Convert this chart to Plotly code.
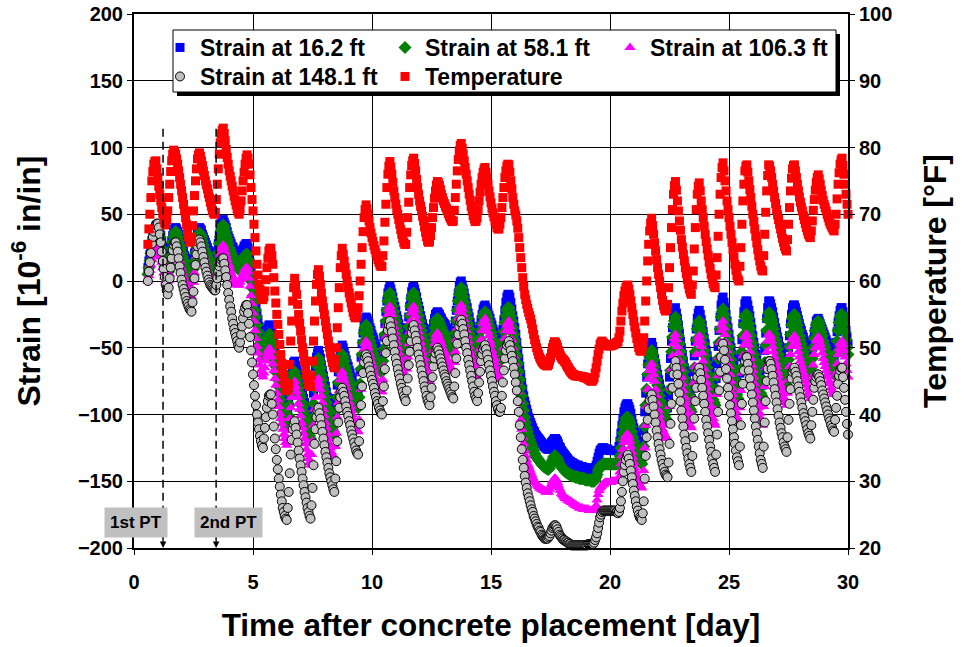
import numpy as np
import plotly.graph_objects as go

# Hourly readings from 14 h to 720 h after concrete placement.
# Each inner list is one day (day 0 starts at 14 h); the last list is hour 720.
hours = np.arange(14, 721, 1)
days = hours / 24.0

temperature_rows = [  # °F
    [65.5, 67.8, 70, 72.5, 75, 76.4, 77.5, 77.9, 78, 76.8],
    [75.5, 74.2, 73, 72, 71, 70.1, 69.2, 68.7, 68.4, 69.2, 70.5, 72.5, 74.5, 76.4, 78, 79, 79.6, 79.4, 79, 78.3, 77.5, 76.5, 75.5, 74.5],
    [73.5, 72.5, 71.5, 70.5, 69.5, 68.5, 67.5, 66.6, 65.8, 65.9, 66.5, 68.3, 70.5, 72.8, 75, 76.8, 78.3, 78.9, 79.2, 78.7, 78, 77.3, 76.5, 75.8],
    [75, 74.4, 73.8, 73.1, 72.5, 71.8, 71.2, 70.6, 70.2, 70, 70.3, 72.2, 74.5, 76.8, 79, 80.7, 82, 82.6, 82.9, 82.1, 81, 79.7, 78.5, 77.5],
    [76.5, 75.7, 75, 74.2, 73.5, 72.7, 72, 71.4, 70.8, 70.3, 70, 70.8, 72, 73.5, 75, 76.3, 77.5, 78.4, 78.9, 78.4, 77.5, 75.9, 74, 72.2],
    [70.5, 68.5, 66.5, 64.5, 62.5, 60.9, 59.5, 58.7, 58, 57.5, 57.2, 57.6, 58.5, 60.2, 62, 63.4, 64.5, 64.9, 64.9, 63.8, 62.5, 60.5, 58.5, 56.7],
    [55, 53.5, 52, 50.5, 49, 47.7, 46.5, 45.6, 44.8, 44.1, 43.6, 43.8, 44.5, 47.5, 51, 54, 57, 59, 60.4, 59.3, 58, 56.5, 55, 53.7],
    [52.5, 51.2, 50, 49, 48, 47, 46, 45.2, 44.5, 44.2, 44.2, 45.8, 48, 51, 54, 57, 59.5, 61, 61.7, 60.7, 59.5, 58.2, 57, 56],
    [55, 54, 53, 52, 51, 50.1, 49.2, 48.5, 47.8, 47.3, 47, 48.2, 50, 53, 56, 59, 62, 63.8, 64.9, 64, 63, 62, 61, 60],
    [59, 58.2, 57.5, 56.7, 56, 55.3, 54.8, 54.5, 54.5, 55, 56, 57.8, 60, 62.5, 65, 67.4, 69.5, 70.7, 71.4, 70.8, 70, 69, 68, 67.2],
    [66.5, 65.9, 65.3, 64.7, 64.2, 63.7, 63.2, 62.8, 62.4, 62.2, 62.2, 63.8, 66, 68.8, 71.5, 74, 76, 77.2, 77.9, 77.1, 76, 74.8, 73.5, 72.5],
    [71.5, 70.7, 70, 69.2, 68.5, 67.7, 67, 66.4, 65.8, 65.5, 65.5, 67.3, 69.5, 71.8, 74, 75.9, 77.3, 78, 78.4, 77.6, 76.5, 75.2, 74, 73],
    [72, 71.2, 70.5, 69.7, 69, 68.1, 67.3, 66.6, 66, 65.8, 65.9, 66.8, 68, 69.5, 71, 72.4, 73.5, 74.4, 74.9, 74.7, 74.3, 73.7, 73, 72.5],
    [72, 71.6, 71.2, 70.9, 70.5, 70.1, 69.7, 69.4, 69.1, 68.9, 69, 70.6, 72.5, 74.5, 76.5, 78.2, 79.5, 80.3, 80.6, 79.9, 79, 78, 77, 76],
    [75, 74, 73, 72.1, 71.2, 70.5, 69.8, 69.3, 68.9, 69, 69.5, 70.7, 72, 73.3, 74.5, 75.5, 76.3, 76.8, 77, 76.3, 75.5, 74.5, 73.5, 72.6],
    [71.7, 70.9, 70.2, 69.6, 69, 68.5, 68, 67.8, 67.8, 68.5, 69.5, 71, 72.5, 74, 75.5, 76.5, 77.2, 77.5, 77.4, 76.3, 75, 73.8, 72.5, 71.5],
    [70.5, 69.9, 69, 67.9, 66.5, 65, 63.5, 62, 60.5, 59.2, 58, 57.2, 56.5, 55.9, 55.3, 54.8, 54.3, 53.6, 52.8, 52, 51.2, 50.6, 50, 49.5],
    [49, 48.6, 48.3, 48, 47.8, 47.6, 47.5, 47.4, 47.3, 47.3, 47.5, 48, 48.5, 49.2, 50, 50.5, 50.9, 50.8, 50.5, 50.1, 49.6, 49.2, 48.8, 48.5],
    [48.3, 48.2, 48, 47.8, 47.5, 47.2, 47, 46.7, 46.5, 46.3, 46.1, 46, 45.9, 45.8, 45.8, 45.8, 45.8, 45.7, 45.7, 45.7, 45.7, 45.6, 45.6, 45.5],
    [45.5, 45.4, 45.3, 45.2, 45.1, 45, 45, 45.2, 45.5, 46.2, 47, 48, 49, 49.8, 50.5, 50.8, 51, 50.8, 50.6, 50.5, 50.4, 50.3, 50.3, 50.3],
    [50.3, 50.3, 50.4, 50.4, 50.5, 50.6, 50.7, 50.8, 50.9, 51.5, 52.5, 54, 55.5, 56.7, 57.8, 58.5, 59, 59.3, 59.4, 58.8, 58, 57, 56, 55],
    [54, 53.1, 52.2, 51.4, 50.6, 50, 49.6, 49.5, 49.5, 50.3, 51.5, 54, 57, 60, 63, 65.5, 67.5, 68.7, 69.4, 68.3, 67, 65.7, 64.5, 63.2],
    [62, 61, 60, 59, 58, 57.1, 56.3, 55.8, 55.5, 55.8, 56.5, 59, 62, 65, 68, 70.7, 73, 74.3, 74.9, 73.6, 72, 70.5, 69, 67.6],
    [66.2, 65.1, 64, 63, 62, 61.1, 60.2, 59.5, 58.8, 58.3, 58, 59.4, 61.5, 64.8, 68, 70.7, 73, 74.2, 74.7, 73.5, 72, 70.7, 69.5, 68.2],
    [67, 65.9, 64.8, 63.8, 62.8, 61.9, 61, 60.3, 59.6, 59.2, 59, 60.9, 63.5, 66.7, 70, 73, 75.5, 77, 77.7, 76.5, 75, 73.5, 72, 70.7],
    [69.5, 68.2, 67, 65.8, 64.7, 63.6, 62.5, 61.6, 60.8, 60.3, 60, 62.2, 65, 68.5, 72, 74.5, 76.5, 77.2, 77.4, 76.3, 75, 73.7, 72.5, 71.2],
    [70, 68.9, 67.8, 66.7, 65.7, 64.7, 63.8, 63, 62.2, 61.7, 61.5, 63.8, 67, 70.3, 73.5, 75.8, 77.4, 77.2, 76.5, 75.5, 74.5, 73.5, 72.5, 71.6],
    [70.7, 69.9, 69.2, 68.5, 67.8, 67.1, 66.4, 65.8, 65.2, 64.8, 64.5, 66.2, 68.5, 71, 73.5, 75.4, 76.8, 77.3, 77.4, 76.5, 75.5, 74.5, 73.5, 72.6],
    [71.8, 71.1, 70.5, 69.8, 69.2, 68.6, 68, 67.5, 67, 66.7, 66.5, 67.5, 69, 70.6, 72.2, 73.6, 74.8, 75.5, 75.9, 75.3, 74.5, 73.6, 72.8, 72.1],
    [71.5, 71, 70.5, 70, 69.5, 69, 68.6, 68.3, 68, 67.7, 67.5, 68.5, 70, 72.3, 74.5, 76.2, 77.5, 78.1, 78.4, 77.3, 76, 74.5, 73, 71.5],
    [70],
]

strain_16_rows = [  # 1e-6 in/in, gauge at 16.2 ft
    [10, 15, 20, 25, 30, 34, 37, 39, 41, 42],
    [42, 41, 38, 34, 30, 26, 22, 18, 15, 13, 12, 15, 20, 25, 30, 34, 37, 39, 40, 39, 37, 35, 32, 29],
    [27, 24, 22, 19, 17, 15, 13, 11, 9, 8, 8, 11, 16, 21, 27, 32, 36, 39, 40, 39, 38, 35, 33, 31],
    [29, 27, 25, 23, 21, 19, 17, 15, 13, 12, 12, 16, 22, 28, 34, 39, 43, 45, 46, 44, 42, 40, 37, 34],
    [32, 30, 28, 26, 25, 23, 21, 19, 18, 17, 17, 18, 20, 22, 24, 26, 27, 28, 28, 25, 20, 14, 8, 3],
    [-2, -7, -12, -18, -24, -29, -34, -38, -42, -45, -48, -46, -43, -40, -37, -35, -33, -33, -34, -38, -42, -47, -52, -57],
    [-62, -67, -72, -77, -81, -85, -89, -93, -96, -98, -100, -97, -92, -85, -77, -70, -64, -61, -60, -63, -66, -69, -72, -75],
    [-78, -81, -84, -88, -91, -95, -98, -101, -104, -106, -108, -103, -95, -84, -73, -64, -57, -54, -52, -55, -58, -63, -67, -71],
    [-75, -79, -83, -87, -90, -93, -96, -99, -101, -103, -105, -98, -88, -78, -68, -60, -53, -50, -48, -50, -53, -56, -59, -62],
    [-64, -67, -69, -72, -74, -77, -79, -81, -83, -84, -85, -78, -68, -57, -47, -39, -32, -29, -27, -28, -30, -32, -35, -37],
    [-40, -42, -44, -47, -49, -51, -53, -55, -57, -58, -58, -51, -42, -32, -23, -15, -9, -6, -4, -6, -9, -12, -16, -19],
    [-22, -26, -29, -32, -35, -38, -40, -43, -45, -47, -48, -42, -35, -27, -19, -13, -8, -5, -4, -6, -9, -12, -16, -19],
    [-22, -26, -29, -32, -35, -38, -41, -44, -46, -47, -48, -45, -41, -36, -32, -28, -25, -24, -23, -24, -25, -27, -28, -30],
    [-31, -32, -33, -35, -36, -37, -38, -40, -41, -42, -42, -37, -30, -22, -15, -9, -4, -1, 0, -3, -6, -9, -13, -17],
    [-20, -24, -27, -31, -34, -37, -40, -43, -45, -47, -48, -44, -39, -34, -29, -25, -21, -19, -18, -20, -22, -24, -26, -28],
    [-31, -33, -36, -38, -41, -44, -46, -48, -50, -50, -48, -43, -36, -29, -22, -16, -12, -10, -10, -12, -16, -21, -26, -30],
    [-35, -40, -46, -52, -58, -64, -70, -76, -81, -86, -90, -93, -96, -99, -102, -104, -106, -108, -110, -112, -113, -115, -116, -117],
    [-118, -119, -120, -121, -122, -123, -124, -125, -125, -126, -126, -125, -123, -121, -120, -119, -118, -118, -119, -120, -122, -124, -125, -127],
    [-128, -129, -130, -131, -132, -133, -134, -135, -135, -136, -136, -137, -137, -138, -138, -138, -138, -139, -139, -139, -139, -140, -140, -140],
    [-140, -140, -140, -141, -141, -141, -141, -141, -141, -140, -138, -135, -132, -129, -127, -126, -125, -125, -125, -126, -126, -126, -126, -127],
    [-127, -127, -127, -127, -127, -127, -127, -127, -127, -124, -120, -114, -108, -103, -98, -95, -93, -92, -92, -94, -96, -99, -103, -107],
    [-110, -113, -116, -118, -120, -122, -124, -125, -125, -120, -112, -98, -84, -72, -62, -55, -50, -47, -46, -49, -53, -58, -62, -66],
    [-70, -74, -77, -81, -84, -87, -90, -92, -94, -95, -95, -85, -72, -58, -45, -35, -27, -22, -20, -24, -28, -33, -39, -45],
    [-50, -55, -60, -65, -69, -73, -77, -81, -84, -86, -88, -79, -68, -56, -45, -36, -28, -24, -22, -25, -29, -33, -38, -43],
    [-47, -52, -56, -60, -64, -68, -72, -76, -79, -81, -83, -73, -62, -49, -37, -27, -18, -14, -12, -16, -20, -25, -30, -35],
    [-40, -45, -50, -55, -59, -64, -68, -72, -76, -78, -80, -69, -57, -44, -32, -23, -17, -15, -15, -18, -22, -26, -31, -36],
    [-41, -46, -50, -55, -59, -63, -67, -71, -74, -76, -78, -66, -52, -39, -28, -20, -15, -15, -17, -20, -23, -27, -31, -35],
    [-38, -42, -45, -49, -52, -55, -58, -61, -64, -66, -68, -60, -50, -41, -32, -25, -20, -18, -18, -20, -23, -26, -29, -32],
    [-35, -37, -40, -42, -45, -47, -50, -53, -56, -58, -60, -56, -50, -44, -38, -34, -30, -29, -28, -30, -32, -34, -36, -38],
    [-40, -42, -44, -46, -48, -50, -53, -56, -58, -59, -60, -54, -46, -38, -31, -26, -22, -20, -20, -23, -27, -32, -37, -42],
    [-47],
]

strain_58_rows = [  # gauge at 58.1 ft
    [5, 10, 15, 21, 26, 30, 33, 35, 37, 38],
    [38, 36, 33, 29, 24, 19, 15, 11, 8, 5, 4, 7, 12, 18, 24, 29, 33, 36, 37, 36, 33, 30, 27, 24],
    [21, 18, 15, 12, 9, 7, 5, 3, 1, 0, 0, 4, 9, 15, 21, 26, 31, 34, 36, 35, 33, 30, 27, 24],
    [22, 20, 18, 16, 14, 12, 10, 8, 6, 5, 4, 9, 15, 21, 28, 33, 38, 41, 42, 40, 37, 34, 31, 28],
    [25, 23, 21, 19, 17, 15, 13, 11, 10, 9, 9, 10, 12, 14, 16, 18, 19, 20, 20, 16, 12, 6, 0, -5],
    [-11, -16, -22, -27, -33, -38, -43, -47, -50, -53, -55, -53, -50, -47, -44, -42, -40, -40, -41, -45, -49, -54, -59, -64],
    [-69, -74, -79, -84, -89, -94, -98, -102, -105, -108, -110, -106, -101, -93, -85, -78, -72, -69, -68, -71, -74, -77, -80, -84],
    [-87, -91, -94, -98, -101, -105, -108, -111, -114, -116, -118, -111, -103, -92, -80, -71, -63, -60, -58, -61, -65, -70, -74, -79],
    [-83, -87, -91, -95, -99, -103, -106, -109, -111, -113, -115, -107, -97, -87, -76, -67, -60, -57, -55, -57, -60, -64, -67, -70],
    [-73, -75, -78, -81, -84, -87, -89, -91, -93, -94, -95, -87, -77, -66, -55, -46, -39, -35, -33, -35, -38, -42, -45, -48],
    [-51, -54, -56, -58, -60, -62, -64, -66, -67, -68, -68, -60, -51, -40, -30, -22, -15, -11, -9, -12, -15, -19, -23, -27],
    [-30, -34, -37, -41, -44, -47, -50, -53, -55, -57, -58, -51, -43, -34, -26, -19, -13, -10, -9, -12, -15, -18, -22, -26],
    [-30, -34, -37, -41, -44, -47, -50, -53, -56, -58, -60, -56, -51, -45, -40, -35, -31, -29, -28, -29, -31, -33, -35, -37],
    [-39, -40, -42, -44, -46, -48, -49, -51, -52, -53, -53, -46, -39, -30, -22, -15, -10, -7, -5, -8, -12, -16, -20, -24],
    [-28, -32, -36, -40, -43, -47, -50, -53, -56, -58, -60, -55, -49, -43, -37, -32, -27, -25, -23, -25, -27, -30, -33, -35],
    [-38, -41, -44, -47, -49, -52, -55, -58, -60, -60, -58, -52, -45, -38, -31, -26, -22, -20, -20, -23, -26, -30, -35, -40],
    [-45, -50, -56, -62, -68, -74, -80, -86, -92, -97, -102, -106, -110, -113, -116, -119, -121, -123, -125, -127, -129, -131, -132, -133],
    [-134, -135, -136, -137, -138, -139, -139, -140, -140, -141, -141, -140, -138, -136, -134, -132, -131, -131, -132, -133, -135, -137, -138, -139],
    [-140, -141, -142, -143, -143, -144, -144, -145, -145, -146, -146, -146, -146, -147, -147, -147, -147, -148, -148, -148, -148, -148, -148, -149],
    [-149, -149, -149, -149, -149, -150, -150, -150, -150, -149, -147, -145, -142, -140, -139, -138, -138, -137, -137, -137, -137, -137, -137, -137],
    [-137, -137, -137, -137, -137, -137, -137, -137, -137, -135, -131, -125, -119, -114, -109, -106, -103, -102, -102, -104, -106, -109, -113, -117],
    [-120, -123, -126, -129, -131, -133, -135, -136, -137, -132, -124, -109, -93, -81, -70, -63, -57, -54, -52, -55, -59, -64, -69, -74],
    [-78, -82, -86, -90, -93, -96, -99, -101, -103, -104, -105, -94, -81, -67, -53, -42, -34, -30, -27, -31, -35, -41, -47, -53],
    [-58, -63, -68, -73, -78, -82, -86, -90, -93, -96, -98, -88, -77, -65, -53, -44, -36, -32, -30, -33, -37, -42, -47, -52],
    [-56, -61, -65, -70, -74, -78, -82, -86, -89, -91, -93, -82, -71, -58, -46, -36, -27, -23, -21, -25, -29, -34, -39, -44],
    [-49, -54, -59, -64, -68, -73, -77, -81, -85, -88, -90, -78, -66, -53, -41, -33, -27, -25, -25, -28, -32, -36, -41, -46],
    [-50, -55, -59, -64, -68, -72, -76, -80, -84, -86, -88, -75, -61, -48, -37, -29, -24, -24, -26, -29, -32, -36, -40, -44],
    [-47, -51, -55, -59, -62, -65, -68, -71, -74, -76, -78, -69, -59, -49, -40, -33, -28, -26, -25, -27, -30, -33, -37, -41],
    [-44, -47, -50, -53, -56, -59, -62, -65, -68, -70, -72, -65, -58, -50, -43, -37, -33, -31, -30, -32, -35, -38, -41, -45],
    [-48, -50, -53, -55, -58, -60, -63, -65, -67, -69, -70, -62, -54, -45, -37, -31, -27, -25, -25, -28, -32, -38, -44, -50],
    [-55],
]

strain_106_rows = [  # gauge at 106.3 ft
    [0, 4, 8, 12, 16, 19, 22, 24, 25, 26],
    [26, 24, 21, 18, 14, 10, 6, 3, 0, -2, -3, 0, 5, 10, 16, 20, 24, 26, 27, 25, 22, 19, 15, 12],
    [9, 6, 3, 0, -2, -4, -6, -8, -10, -11, -12, -7, -1, 6, 13, 19, 25, 29, 31, 30, 27, 24, 20, 17],
    [14, 11, 8, 5, 3, 1, -1, -3, -4, -5, -5, -1, 4, 9, 15, 20, 24, 26, 27, 25, 22, 19, 16, 13],
    [11, 8, 6, 4, 2, 0, -1, -2, -3, -3, -3, -1, 1, 3, 5, 7, 9, 10, 10, 7, 2, -4, -11, -17],
    [-24, -30, -37, -43, -49, -54, -59, -63, -67, -70, -72, -69, -65, -60, -56, -53, -51, -51, -52, -57, -62, -67, -73, -78],
    [-84, -89, -94, -99, -103, -107, -111, -115, -118, -121, -123, -118, -112, -103, -95, -87, -80, -77, -75, -79, -83, -87, -92, -96],
    [-101, -106, -110, -114, -118, -122, -126, -130, -133, -136, -138, -130, -120, -108, -96, -87, -79, -75, -73, -77, -81, -86, -91, -96],
    [-101, -106, -110, -114, -118, -122, -125, -128, -130, -132, -133, -124, -114, -102, -91, -82, -74, -70, -68, -71, -74, -77, -80, -84],
    [-87, -91, -94, -97, -100, -103, -106, -109, -111, -112, -113, -104, -93, -81, -69, -59, -51, -47, -45, -47, -50, -54, -57, -60],
    [-63, -66, -69, -72, -74, -77, -79, -81, -82, -83, -83, -74, -64, -53, -42, -33, -25, -21, -19, -22, -25, -30, -34, -38],
    [-42, -46, -50, -54, -58, -61, -64, -67, -70, -72, -73, -66, -57, -47, -38, -30, -24, -21, -19, -22, -26, -30, -34, -38],
    [-42, -46, -50, -54, -58, -62, -65, -68, -71, -73, -75, -70, -64, -58, -52, -47, -43, -40, -39, -41, -43, -45, -47, -50],
    [-52, -54, -56, -58, -60, -62, -63, -65, -66, -67, -68, -61, -53, -44, -35, -28, -23, -20, -18, -21, -25, -29, -33, -37],
    [-41, -45, -49, -53, -56, -60, -63, -66, -69, -71, -73, -66, -59, -51, -44, -37, -32, -30, -28, -31, -34, -38, -41, -45],
    [-48, -52, -55, -58, -61, -65, -68, -71, -74, -74, -73, -66, -58, -50, -43, -37, -33, -31, -30, -34, -38, -44, -50, -56],
    [-62, -69, -76, -83, -90, -97, -104, -111, -117, -122, -127, -131, -134, -137, -139, -141, -143, -145, -147, -149, -150, -151, -152, -153],
    [-154, -155, -155, -156, -156, -157, -157, -158, -158, -158, -158, -156, -154, -152, -150, -149, -148, -148, -149, -151, -153, -155, -157, -159],
    [-160, -161, -162, -163, -163, -164, -164, -165, -165, -166, -166, -167, -167, -168, -168, -169, -169, -170, -170, -170, -170, -171, -171, -171],
    [-171, -171, -171, -172, -172, -172, -172, -172, -172, -170, -168, -164, -160, -157, -155, -154, -153, -152, -152, -151, -151, -151, -151, -151],
    [-151, -151, -150, -150, -150, -150, -150, -150, -150, -147, -143, -137, -131, -126, -121, -118, -116, -115, -115, -117, -120, -124, -128, -132],
    [-136, -140, -143, -146, -149, -151, -153, -154, -155, -150, -142, -125, -108, -94, -81, -73, -67, -64, -62, -66, -70, -75, -81, -86],
    [-92, -97, -101, -105, -108, -111, -113, -115, -117, -118, -118, -107, -94, -80, -66, -56, -47, -43, -40, -44, -49, -54, -60, -66],
    [-72, -77, -82, -87, -91, -95, -99, -102, -105, -108, -110, -100, -89, -76, -64, -55, -47, -43, -41, -45, -49, -54, -60, -66],
    [-71, -76, -80, -85, -89, -93, -96, -100, -103, -106, -108, -97, -85, -71, -57, -46, -37, -33, -30, -35, -40, -46, -52, -58],
    [-64, -70, -75, -80, -85, -90, -94, -98, -102, -105, -108, -95, -82, -69, -56, -48, -42, -40, -40, -44, -48, -53, -58, -63],
    [-67, -72, -77, -82, -86, -91, -95, -99, -103, -106, -108, -94, -79, -65, -53, -45, -40, -40, -42, -45, -49, -53, -57, -61],
    [-64, -68, -71, -75, -78, -81, -84, -87, -89, -91, -93, -84, -74, -64, -55, -49, -44, -42, -41, -43, -46, -49, -53, -57],
    [-60, -63, -66, -69, -72, -75, -78, -81, -84, -86, -88, -80, -72, -63, -55, -50, -45, -43, -42, -44, -47, -50, -54, -58],
    [-61, -64, -67, -70, -72, -75, -77, -80, -82, -84, -85, -77, -69, -62, -55, -51, -47, -46, -45, -48, -52, -57, -62, -67],
    [-72],
]

strain_148_rows = [  # gauge at 148.1 ft
    [0, 7, 14, 21, 28, 33, 37, 40, 42, 43],
    [43, 40, 35, 29, 22, 15, 9, 3, -3, -7, -10, -5, 2, 10, 17, 23, 27, 29, 29, 26, 22, 17, 11, 6],
    [1, -3, -6, -9, -12, -15, -17, -19, -21, -22, -23, -16, -8, 2, 12, 20, 26, 29, 31, 29, 26, 22, 18, 14],
    [10, 7, 4, 1, -1, -3, -4, -5, -6, -7, -7, -3, 2, 7, 11, 14, 16, 17, 17, 13, 8, 3, -3, -9],
    [-14, -19, -23, -28, -32, -36, -39, -42, -45, -48, -50, -46, -40, -34, -28, -23, -20, -18, -18, -24, -32, -42, -52, -61],
    [-70, -78, -86, -93, -100, -106, -111, -116, -120, -123, -125, -118, -110, -102, -95, -90, -86, -85, -85, -92, -100, -109, -118, -126],
    [-134, -141, -148, -154, -160, -165, -170, -173, -176, -178, -179, -170, -158, -144, -130, -119, -111, -107, -105, -110, -115, -121, -127, -133],
    [-138, -143, -148, -153, -158, -162, -166, -170, -173, -176, -178, -168, -155, -138, -122, -111, -102, -97, -95, -99, -103, -108, -113, -118],
    [-123, -128, -132, -136, -140, -144, -147, -150, -153, -156, -158, -148, -135, -120, -106, -95, -87, -82, -80, -83, -86, -90, -94, -98],
    [-101, -105, -108, -112, -115, -118, -121, -124, -127, -129, -130, -120, -107, -93, -79, -69, -61, -57, -55, -57, -60, -64, -67, -71],
    [-74, -77, -80, -84, -87, -90, -92, -95, -97, -99, -100, -90, -79, -66, -54, -45, -37, -33, -30, -34, -38, -43, -48, -53],
    [-58, -62, -66, -70, -73, -77, -80, -83, -86, -88, -90, -82, -73, -63, -53, -45, -39, -35, -33, -37, -41, -45, -50, -55],
    [-59, -63, -67, -71, -75, -79, -82, -86, -89, -91, -93, -87, -80, -72, -64, -58, -54, -51, -50, -52, -55, -58, -61, -64],
    [-67, -70, -72, -75, -77, -79, -81, -83, -85, -87, -88, -79, -69, -58, -47, -40, -34, -31, -29, -32, -36, -40, -45, -50],
    [-54, -59, -63, -67, -71, -75, -79, -83, -86, -88, -90, -84, -76, -68, -60, -55, -51, -49, -48, -51, -55, -59, -63, -67],
    [-71, -75, -79, -83, -86, -90, -93, -96, -98, -98, -95, -86, -76, -67, -58, -52, -48, -46, -45, -48, -52, -56, -60, -65],
    [-70, -76, -82, -90, -98, -108, -117, -126, -134, -140, -146, -151, -155, -159, -162, -165, -168, -171, -173, -176, -178, -180, -182, -184],
    [-185, -187, -188, -190, -191, -192, -193, -193, -193, -193, -192, -191, -189, -187, -185, -184, -183, -183, -184, -186, -188, -190, -191, -192],
    [-193, -194, -194, -195, -195, -196, -196, -197, -197, -198, -198, -198, -198, -198, -198, -198, -198, -198, -198, -198, -198, -198, -198, -198],
    [-198, -198, -197, -197, -197, -197, -197, -197, -196, -194, -192, -189, -185, -181, -177, -175, -173, -172, -172, -172, -172, -172, -172, -172],
    [-172, -172, -172, -172, -172, -172, -173, -173, -174, -173, -170, -165, -158, -150, -143, -138, -134, -131, -130, -133, -137, -142, -147, -152],
    [-157, -161, -165, -169, -172, -175, -177, -178, -179, -174, -165, -148, -131, -117, -104, -96, -89, -86, -85, -89, -94, -100, -106, -112],
    [-117, -122, -126, -130, -134, -137, -140, -143, -145, -146, -147, -136, -122, -107, -92, -80, -70, -64, -60, -65, -70, -77, -84, -90],
    [-97, -103, -109, -115, -120, -125, -129, -133, -137, -140, -143, -131, -117, -103, -90, -80, -72, -67, -65, -69, -74, -80, -86, -92],
    [-98, -104, -109, -114, -119, -124, -128, -133, -137, -140, -143, -130, -115, -98, -82, -68, -57, -50, -47, -52, -59, -66, -73, -80],
    [-86, -93, -99, -105, -111, -117, -122, -127, -132, -135, -138, -124, -108, -92, -77, -67, -60, -57, -57, -62, -67, -73, -79, -85],
    [-91, -97, -103, -109, -114, -119, -124, -129, -134, -137, -140, -124, -106, -90, -75, -66, -60, -60, -62, -66, -71, -76, -81, -86],
    [-91, -96, -101, -106, -110, -114, -117, -121, -124, -126, -128, -117, -104, -92, -81, -73, -68, -66, -65, -68, -71, -75, -79, -83],
    [-87, -91, -95, -99, -102, -105, -108, -111, -114, -116, -118, -108, -98, -89, -80, -75, -72, -70, -70, -72, -75, -78, -82, -85],
    [-88, -91, -94, -97, -100, -103, -105, -108, -110, -112, -113, -104, -95, -86, -77, -71, -67, -65, -65, -72, -80, -89, -98, -107],
    [-115],
]

series_rows = [
    ("Strain at 16.2 ft", strain_16_rows),
    ("Strain at 58.1 ft", strain_58_rows),
    ("Strain at 106.3 ft", strain_106_rows),
    ("Strain at 148.1 ft", strain_148_rows),
    ("Temperature", temperature_rows),
]

series = []
for name, rows in series_rows:
    for i, r in enumerate(rows[1:-1], start=1):
        assert len(r) == 24, (name, i, len(r))
    flat = [v for r in rows for v in r]
    assert len(flat) == len(days), (name, len(flat))
    series.append((name, flat))

# Post-tensioning events [day]
pt_days = [1.22, 3.45]
pt_labels = ["1st PT", "2nd PT"]
pt_label_x = [0.08, 3.99]

FONT = "Liberation Sans, Arial, sans-serif"

fig = go.Figure()

marker_styles = [
    dict(symbol="square", size=9, color="#0000FF"),
    dict(symbol="diamond", size=10, color="#008000"),
    dict(symbol="triangle-up", size=10, color="#FF00FF"),
    dict(symbol="circle", size=9, color="#C0C0C0", line=dict(color="#000000", width=1)),
    dict(symbol="square", size=9, color="#FF0000"),
]
legend_ids = ["legend", "legend", "legend", "legend2", "legend2"]

for (name, vals), mk, lg in zip(series, marker_styles, legend_ids):
    fig.add_trace(go.Scatter(
        x=days, y=vals, name=name, mode="markers", marker=mk,
        yaxis="y2" if name == "Temperature" else "y",
        legend=lg, cliponaxis=False,
    ))

# Post-tensioning markers: dashed lines with arrowheads and labels
for d, lab, lx in zip(pt_days, pt_labels, pt_label_x):
    fig.add_shape(type="line", xref="x", yref="y", x0=d, x1=d, y0=114, y1=-196,
                  line=dict(color="black", width=1.5, dash="8px,5px"))
    fig.add_annotation(x=d, y=-200, xref="x", yref="y", text="", showarrow=True,
                       arrowhead=2, arrowsize=1, arrowwidth=1.3, arrowcolor="black",
                       ax=0, ay=-10)
    fig.add_annotation(x=lx, y=-181, xref="x", yref="y", text=f"<b>{lab}</b>",
                       showarrow=False, bgcolor="#C0C0C0", borderpad=5,
                       font=dict(family=FONT, size=17, color="black"))


# Legend frame with drop shadow (px -> paper)
def px_x(p):
    return (p - 134) / 714.0


def px_y(p):
    return (548 - p) / 534.0


fig.add_shape(type="rect", xref="paper", yref="paper", layer="above",
              x0=px_x(177), x1=px_x(840), y0=px_y(96), y1=px_y(34),
              fillcolor="black", line=dict(width=0))
fig.add_shape(type="rect", xref="paper", yref="paper", layer="above",
              x0=px_x(173), x1=px_x(836), y0=px_y(92), y1=px_y(30),
              fillcolor="white", line=dict(color="black", width=1))

axis_common = dict(
    showline=True, linecolor="black", linewidth=2, mirror=True,
    ticks="outside", ticklen=5, tickcolor="black",
    tickfont=dict(family=FONT, size=20, color="black", weight="bold"),
    zeroline=False,
)

legend_font = dict(family=FONT, size=23, color="black", weight="bold")

fig.update_layout(
    width=961, height=647,
    margin=dict(l=134, r=113, t=14, b=99, autoexpand=False),
    paper_bgcolor="white", plot_bgcolor="white",
    font=dict(family=FONT, color="black"),
    xaxis=dict(range=[0, 30], dtick=5, showgrid=True, gridcolor="black", gridwidth=1,
               ticklabelstandoff=10,
               title=dict(text="<b>Time after concrete placement [day]</b>",
                          font=dict(family=FONT, size=31.5, color="black"), standoff=22),
               **axis_common),
    yaxis=dict(range=[-200, 200], dtick=50, showgrid=True, gridcolor="black", gridwidth=1,
               title=dict(text="<b>Strain [10<sup>-6</sup> in/in]</b>",
                          font=dict(family=FONT, size=32, color="black"), standoff=28),
               **axis_common),
    yaxis2=dict(range=[20, 100], dtick=10, overlaying="y", side="right", showgrid=False,
                title=dict(text="<b>Temperature [°F]</b>",
                           font=dict(family=FONT, size=32, color="black"), standoff=32),
                **axis_common),
    legend=dict(orientation="h", x=px_x(160), y=px_y(26), xanchor="left", yanchor="top",
                bgcolor="rgba(0,0,0,0)", borderwidth=0, entrywidth=180,
                font=legend_font, itemsizing="trace"),
    legend2=dict(orientation="h", x=px_x(160), y=px_y(55), xanchor="left", yanchor="top",
                 bgcolor="rgba(0,0,0,0)", borderwidth=0, entrywidth=180,
                 font=legend_font, itemsizing="trace"),
    showlegend=True,
)

fig.write_html("out.html")
